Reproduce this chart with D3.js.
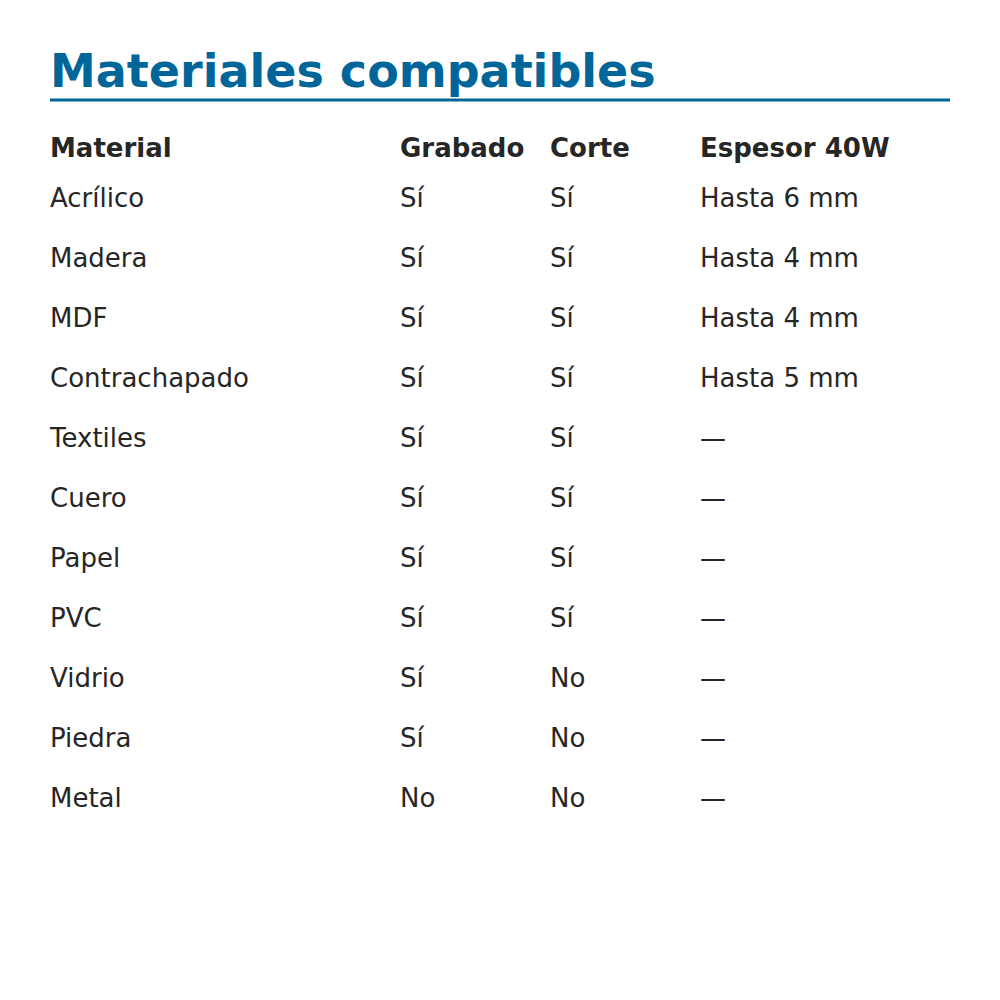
<!DOCTYPE html>
<html>
<head>
<meta charset="utf-8">
<script src="https://cdn.jsdelivr.net/npm/d3@7"></script>
<style>
  body { margin: 0; background: #fff; }
  text { font-family: "DejaVu Sans", sans-serif; }
</style>
</head>
<body>
<svg id="chart"></svg>
<script>
const headers = ['Material', 'Grabado', 'Corte', 'Espesor 40W'];
const materials = ['Acrílico', 'Madera', 'MDF', 'Contrachapado', 'Textiles', 'Cuero', 'Papel', 'PVC', 'Vidrio', 'Piedra', 'Metal'];
const engraving = ['Sí', 'Sí', 'Sí', 'Sí', 'Sí', 'Sí', 'Sí', 'Sí', 'Sí', 'Sí', 'No'];
const cutting = ['Sí', 'Sí', 'Sí', 'Sí', 'Sí', 'Sí', 'Sí', 'Sí', 'No', 'No', 'No'];
const thickness = ['Hasta 6 mm', 'Hasta 4 mm', 'Hasta 4 mm', 'Hasta 5 mm', '—', '—', '—', '—', '—', '—', '—'];

const svg = d3.select('#chart').attr('width', 1000).attr('height', 1000);

svg.append('text')
  .attr('x', 50).attr('y', 87)
  .attr('font-size', 46).attr('font-weight', 'bold')
  .attr('fill', '#006699')
  .text('Materiales compatibles');

svg.append('line')
  .attr('x1', 50).attr('x2', 950)
  .attr('y1', 100).attr('y2', 100)
  .attr('stroke', '#006699').attr('stroke-width', 3);

const x = d3.scaleOrdinal().domain(headers).range([50, 400, 550, 700]);
const y = d3.scaleLinear().domain([0, 1]).range([207, 267]);

svg.selectAll('.hdr')
  .data(headers)
  .enter().append('text')
  .attr('class', 'hdr')
  .attr('x', d => x(d)).attr('y', 157)
  .attr('font-size', 26).attr('font-weight', 'bold')
  .attr('fill', '#262626')
  .text(d => d);

const rows = materials.map((m, i) => [m, engraving[i], cutting[i], thickness[i]]);

const row = svg.selectAll('.row')
  .data(rows)
  .enter().append('g')
  .attr('class', 'row')
  .attr('transform', (d, i) => `translate(0,${y(i)})`);

row.selectAll('text')
  .data(d => d.map((v, j) => ({ v, col: headers[j] })))
  .enter().append('text')
  .attr('x', d => x(d.col))
  .attr('font-size', 26)
  .attr('fill', '#262626')
  .text(d => d.v);
</script>
</body>
</html>
